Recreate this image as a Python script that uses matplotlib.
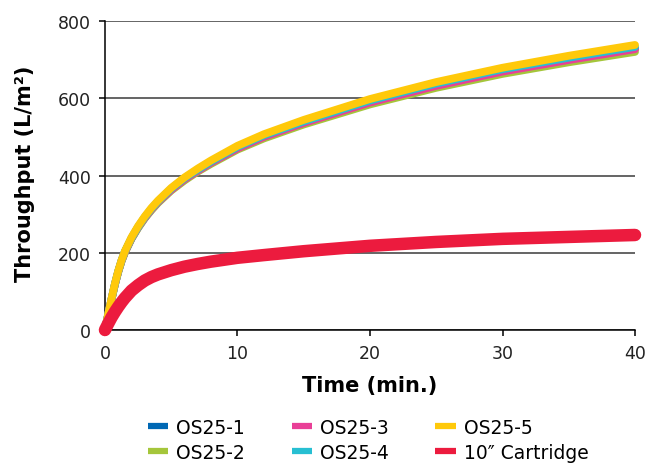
import matplotlib
matplotlib.use('Agg')
from matplotlib import pyplot as plt

# time points (min.)
time = [0, 0.25, 0.5, 0.75, 1, 1.25, 1.5, 2, 2.5, 3, 3.5, 4, 5, 6, 7, 8,
        10, 12, 15, 20, 25, 30, 35, 40]

# throughput (L/m2)
os25_1 = [0, 41, 81, 118, 151, 179, 202, 237, 266, 291, 312, 331, 364, 390,
          413, 434, 471, 501, 537, 590, 634, 670, 701, 728]
os25_2 = [0, 41, 80, 118, 150, 178, 200, 236, 264, 289, 310, 329, 361, 387,
          410, 430, 467, 496, 532, 584, 627, 663, 693, 720]
os25_3 = [0, 41, 81, 118, 151, 179, 201, 237, 266, 290, 312, 331, 363, 390,
          412, 433, 470, 500, 536, 589, 632, 669, 699, 727]
os25_4 = [0, 42, 81, 119, 152, 180, 203, 238, 267, 292, 314, 333, 366, 393,
          415, 436, 474, 504, 540, 594, 638, 675, 705, 733]
os25_5 = [0, 42, 82, 120, 153, 181, 204, 240, 269, 294, 316, 335, 368, 395,
          418, 439, 477, 507, 544, 598, 642, 679, 710, 738]
cartridge = [0, 17, 33, 47, 60, 72, 83, 102, 116, 128, 137, 144, 155, 164,
             171, 177, 187, 194, 204, 218, 228, 236, 241, 246]

series = [
    ('OS25-1', os25_1, '#0068b4', 5.6),
    ('OS25-2', os25_2, '#a5c63b', 5.6),
    ('OS25-3', os25_3, '#e93f97', 5.6),
    ('OS25-4', os25_4, '#27bfd2', 5.6),
    ('OS25-5', os25_5, '#ffc90a', 5.6),
    ('10\u2033 Cartridge', cartridge, '#ec1b3e', 9.0),
]

fig = plt.figure(figsize=(6.46, 4.64), dpi=100)
ax = fig.add_axes([0.1625, 0.2866, 0.8205, 0.666])

handles = []
for label, vals, color, lw in series:
    line, = ax.plot(time, vals, color=color, linewidth=lw, label=label,
                    solid_capstyle='round', solid_joinstyle='round',
                    clip_on=False, zorder=3)
    handles.append(line)

ax.set_xlim(0, 40)
ax.set_ylim(0, 800)
ax.set_xticks([0, 10, 20, 30, 40])
ax.set_yticks([0, 200, 400, 600, 800])

ax.yaxis.grid(True, color='#3a3a3a', linewidth=1.1)
ax.set_axisbelow(True)
for side in ('top', 'right'):
    ax.spines[side].set_visible(False)
for side in ('left', 'bottom'):
    ax.spines[side].set_color('black')
    ax.spines[side].set_linewidth(1.1)
    ax.spines[side].set_zorder(2)

ax.tick_params(axis='both', labelsize=12.5, colors='black', width=1.1,
               length=4, pad=6, labelcolor='#222222')

ax.set_xlabel('Time (min.)', fontsize=15, fontweight='bold')
ax.set_ylabel('Throughput (L/m\u00b2)', fontsize=15, fontweight='bold')
ax.xaxis.set_label_coords(0.5, -0.146)
ax.yaxis.set_label_coords(-0.132, 0.51)

leg = fig.legend(handles=handles, loc='center', ncol=3, frameon=False,
                 bbox_to_anchor=(0.5697, 0.0496), fontsize=13.5,
                 handlelength=1.1, handletextpad=0.4, columnspacing=2.5,
                 labelspacing=0.32, borderpad=0)
for h in leg.legend_handles:
    h.set_linewidth(4.5)
    h.set_solid_capstyle('butt')

fig.savefig('out.png', dpi=100)
